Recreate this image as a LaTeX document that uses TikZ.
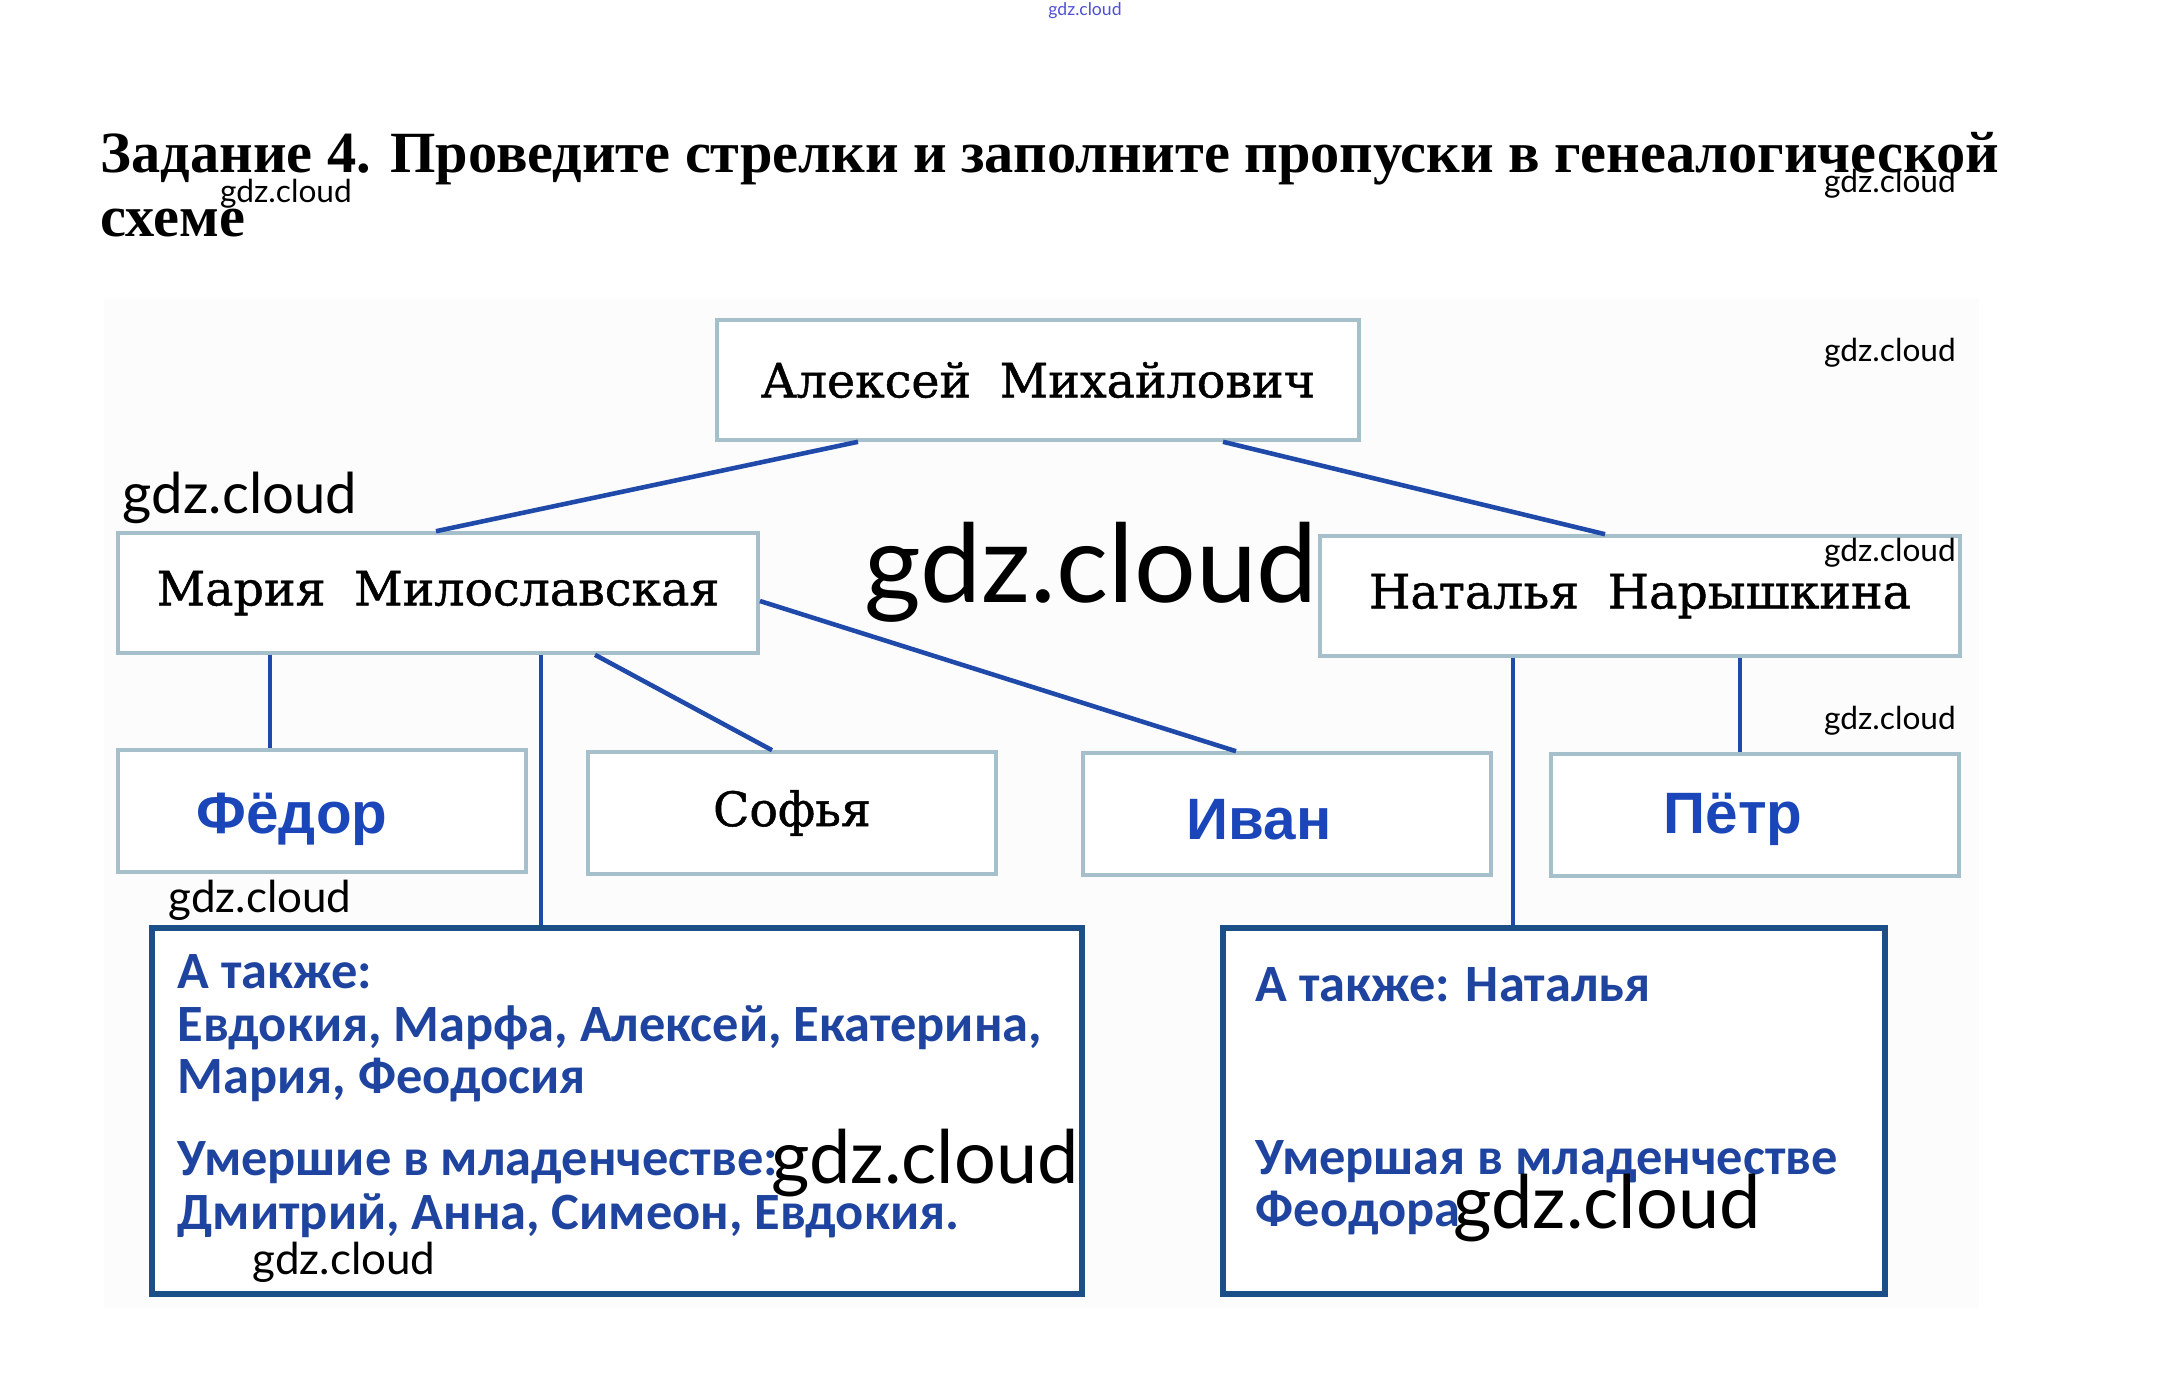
\documentclass[tikz,border=0pt]{standalone}
\usepackage{fontspec}
\usepackage{tikz}
\usetikzlibrary{calc}
\setmainfont{Liberation Serif}
\newfontfamily\namefont[FakeBold=1]{DejaVu Serif}
\newfontfamily\answerfont{Liberation Sans}
\newfontfamily\notefont{Carlito}
\newfontfamily\wmfont{Lato}
\definecolor{linkblue}{RGB}{32, 74, 170}
\definecolor{boxgray}{RGB}{165, 192, 202}
\definecolor{framenavy}{RGB}{28, 78, 135}
\definecolor{noteblue}{RGB}{30, 68, 160}
\definecolor{inkblue}{RGB}{26, 70, 185}
\definecolor{wmblue}{RGB}{80, 80, 215}
\definecolor{paper}{RGB}{252, 252, 252}

\begin{document}
\begin{tikzpicture}[x=0.01cm, y=-0.01cm,
    namebox/.style={draw=boxgray, line width=1pt, fill=white, inner sep=0pt,
                    minimum height=1.2cm, font=\namefont\fontsize{13.5}{16}\selectfont},
    kidbox/.style={namebox, minimum width=4.08cm, minimum height=1.22cm},
    answer/.style={text=inkblue, inner sep=0pt, font=\answerfont\bfseries\fontsize{16.6}{19}\selectfont},
    notebox/.style={draw=framenavy, line width=1.7pt, fill=white, minimum height=3.65cm},
    note/.style={text=noteblue, inner sep=0pt, font=\notefont\bfseries\fontsize{14.9}{15}\selectfont},
    link/.style={draw=linkblue, line width=1.3pt},
    wm/.style={inner sep=0pt, font=\wmfont\fontsize{#1}{#1}\selectfont}]
  \useasboundingbox (0,0) rectangle (2170,1390);
  \fill[white] (0,0) rectangle (2170,1390);
  \fill[paper] (104,298) rectangle (1979,1308);

  % title
  \node[anchor=base west, inner sep=0pt, font=\bfseries\fontsize{16.6}{19}\selectfont] (title1) at (100,172)
    {Задание 4. Проведите стрелки и заполните пропуски в генеалогической};
  \node[anchor=base west, inner sep=0pt, font=\bfseries\fontsize{16.6}{19}\selectfont] (title2) at (100,236) {схеме};

  % parents
  \node[namebox, minimum width=6.42cm] (alexey) at (1038,380) {Алексей\hspace{0.6em}Михайлович};
  \node[namebox, minimum width=6.40cm] (maria) at (438,593) {Мария\hspace{0.6em}Милославская};
  \node[namebox, minimum width=6.40cm] (natalia) at (1640,596) {Наталья\hspace{0.6em}Нарышкина};

  % children
  \node[kidbox] (fedor) at (322,811) {};
  \node[kidbox] (sofia) at (792,813) {Софья};
  \node[kidbox] (ivan) at (1287,814) {};
  \node[kidbox] (petr) at (1755,815) {};
  \node[answer] (fedortxt) at ([shift={(-30,8)}]fedor.center) {Фёдор};
  \node[answer] (ivantxt) at ([shift={(-28,6)}]ivan.center) {Иван};
  \node[answer] (petrtxt) at ([shift={(-22,4)}]petr.center) {Пётр};

  \node[notebox, minimum width=9.30cm] (leftbox) at (617,1111) {};
  \node[notebox, minimum width=6.62cm] (rightbox) at (1554,1111) {};

  % connectors
  \draw[link] (alexey.south -| 858,0) -- (maria.north -| 436,0);
  \draw[link] (alexey.south -| 1223,0) -- (natalia.north -| 1605,0);
  \draw[link] (maria.south -| 270,0) -- (fedor.north -| 270,0);
  \draw[link] (maria.south -| 541,0) -- (leftbox.north -| 541,0);
  \draw[link] (maria.south -| 595,0) -- (sofia.north -| 772,0);
  \draw[link] (maria.east |- 0,601) -- (ivan.north -| 1236,0);
  \draw[link] (natalia.south -| 1513,0) -- (rightbox.north -| 1513,0);
  \draw[link] (natalia.south -| 1740,0) -- (petr.north -| 1740,0);

  % filled gaps
  \foreach \y/\txt in {988/{А также:}, 1041/{Евдокия, Марфа, Алексей, Екатерина,},
                       1093/{Мария, Феодосия}, 1175/{Умершие в младенчестве:},
                       1229/{Дмитрий, Анна, Симеон, Евдокия.}}{
    \node[note, anchor=base west] (left\y) at (177,\y) {\txt};
  }
  \foreach \y/\txt in {1001/{А также: Наталья}, 1174/{Умершая в младенчестве}, 1226/{Феодора}}{
    \node[note, anchor=base west] (right\y) at (1255,\y) {\txt};
  }

  % watermarks
  \node[wm=5, text=wmblue] (wm0) at (1085,11) {gdz.cloud};
  \node[wm=9] (wm1) at (286,194) {gdz.cloud};
  \node[wm=9] (wm2) at (1890,184) {gdz.cloud};
  \node[wm=9] (wm3) at (1890,353) {gdz.cloud};
  \node[wm=9] (wm4) at (1890,553) {gdz.cloud};
  \node[wm=9] (wm5) at (1890,721) {gdz.cloud};
  \node[wm=16] (wm6) at (240,498) {gdz.cloud};
  \node[wm=31] (wm7) at (1091,572) {gdz.cloud};
  \node[wm=12.5] (wm8) at (260,900) {gdz.cloud};
  \node[wm=21] (wm9) at (925,1163) {gdz.cloud};
  \node[wm=12.5] (wm10) at (344,1262) {gdz.cloud};
  \node[wm=21] (wm11) at (1607,1208) {gdz.cloud};
\end{tikzpicture}
\end{document}
